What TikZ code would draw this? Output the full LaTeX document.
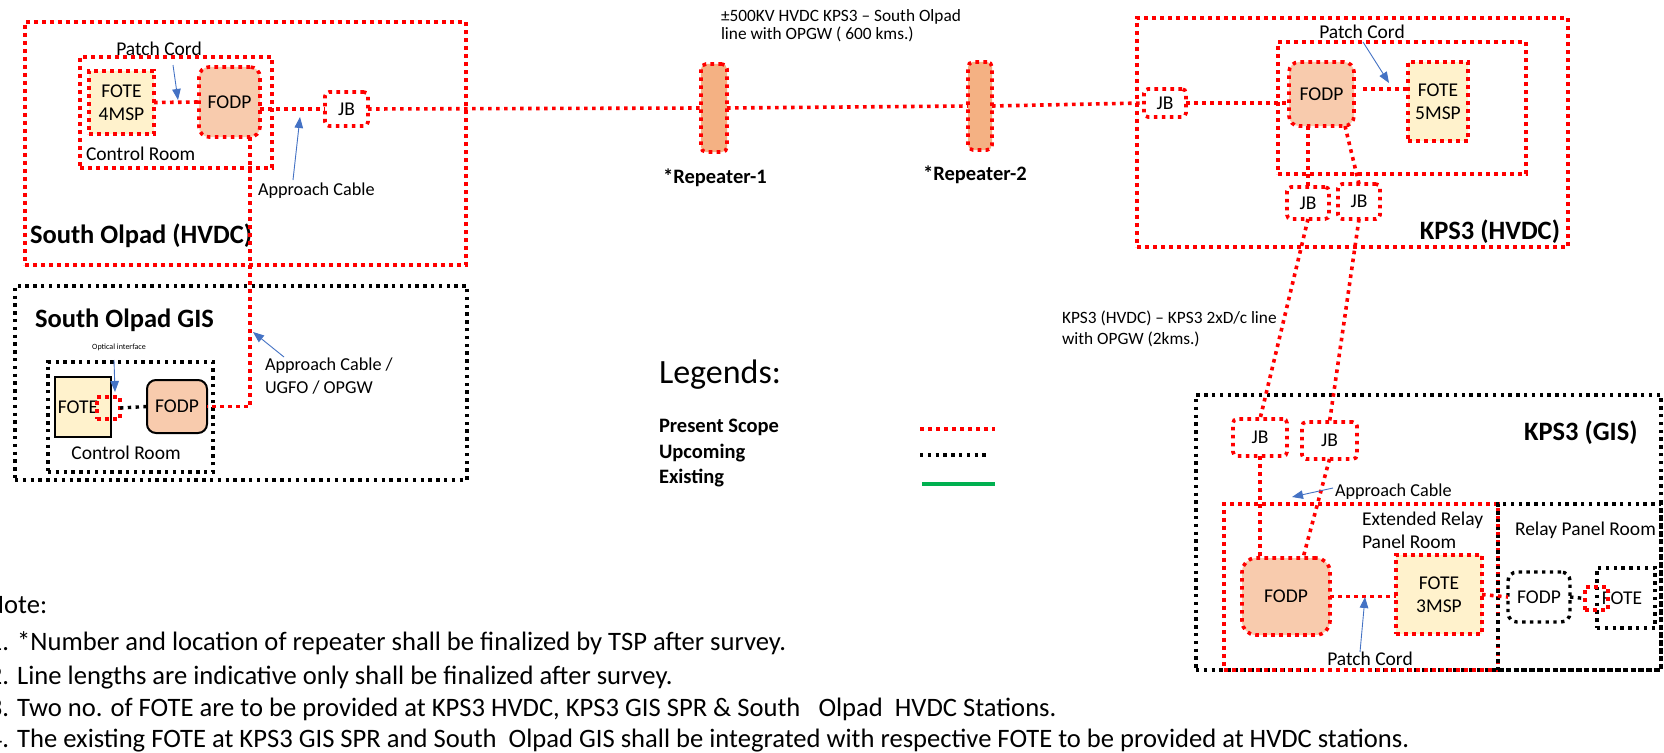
\documentclass[tikz,border=0pt]{standalone}
\usepackage{fontspec}
\setmainfont{Carlito}
\usetikzlibrary{arrows.meta}
\definecolor{fodpfill}{HTML}{F8CBAD}
\definecolor{fotefill}{HTML}{FFF2CC}
\definecolor{repfill}{HTML}{F4B183}
\definecolor{callout}{HTML}{4472C4}
\definecolor{existing}{HTML}{00B050}
\tikzset{
  every node/.style={inner sep=0pt, outer sep=0pt},
  reddots/.style={draw=red, line width=3.6pt, dash pattern=on 3.6pt off 4.4pt},
  blackdots/.style={draw=black, line width=3.4pt, dash pattern=on 3.4pt off 4.4pt},
  sz/.style 2 args={minimum width=#1pt, minimum height=#2pt},
  txt/.style={font=\fontsize{19.5}{23.5}\selectfont},
  smalltxt/.style={font=\fontsize{17.3}{20}\selectfont},
  apptxt/.style={font=\fontsize{18.2}{22}\selectfont},
  station/.style={font=\bfseries\fontsize{26.5}{30}\selectfont},
  boldtxt/.style={font=\bfseries\fontsize{20.5}{24}\selectfont},
  notetxt/.style={font=\fontsize{26.6}{30}\selectfont},
  tinytxt/.style={font=\fontsize{8}{9}\selectfont},
  headtxt/.style={font=\fontsize{34}{38}\selectfont},
  zone/.style={rectangle, reddots},
  zoneup/.style={rectangle, blackdots},
  fotebox/.style={rectangle, fill=fotefill, reddots, align=center, txt},
  fodpbox/.style={rectangle, rounded corners=10pt, fill=fodpfill, reddots, txt},
  jbbox/.style={rectangle, rounded corners=4pt, fill=white, reddots, txt},
  repbox/.style={rectangle, rounded corners=5pt, fill=repfill, reddots},
  oibox/.style={rectangle, reddots},
  fotesolid/.style={rectangle, fill=fotefill, draw=black, line width=2pt, txt},
  fodpsolid/.style={rectangle, rounded corners=9pt, fill=fodpfill, draw=black, line width=2pt, txt},
  fodpup/.style={rectangle, rounded corners=9pt, fill=white, blackdots, txt},
  foteup/.style={rectangle, fill=white, blackdots, txt},
  callarrow/.style={draw=callout, line width=0.9pt, -{Triangle[length=11pt,width=8.5pt]}},
  cable/.style={reddots},
  cableup/.style={blackdots}
}
\begin{document}
\begin{tikzpicture}[x=1pt,y=-1pt]
\useasboundingbox (0,0) rectangle (1664,752);
\fill[white] (0,0) rectangle (1664,752);
\clip (0,0) rectangle (1664,752);

% ---------- South Olpad (HVDC) ----------
\node[zone, sz={441}{243}] (soH) at (245.5,143.5) {};
\node[zone, sz={192}{111}] (crA) at (176,112.5) {};
\node[fotebox, sz={65}{63}] (fote4) at (121.5,102.5) {FOTE\\4MSP};
\node[fodpbox, sz={61}{70}] (fodpA) at (229.5,102) {FODP};
\node[jbbox, sz={43}{34}] (jbA) at (346.5,109) {JB};
\node[station, anchor=base west] (soHlbl) at (30,243.5) {South Olpad (HVDC)};
\node[txt, anchor=base west] (crAlbl) at (86,160) {Control Room};
\node[txt, anchor=base] (pcAlbl) at (159,55.3) {Patch Cord};
\node[apptxt, anchor=base west] (acAlbl) at (258,195) {Approach Cable};

% ---------- South Olpad GIS ----------
\node[zoneup, sz={452}{194}] (soG) at (241,383) {};
\node[zoneup, sz={165}{110}] (crB) at (130.5,417) {};
\node[fotesolid, sz={56}{60}] (foteB) at (83,407) {FOTE\hspace*{10pt}};
\node[oibox, sz={23}{22}] (oiB) at (108.5,408) {};
\node[fodpsolid, sz={60}{53}] (fodpB) at (177,406.5) {FODP};
\node[station, anchor=base west] (soGlbl) at (35,327.5) {South Olpad GIS};
\node[tinytxt, anchor=base] (oiBlbl) at (119,349.6) {Optical interface};
\node[txt, anchor=base] (crBlbl) at (126,459.3) {Control Room};
\node[apptxt, anchor=base west] (acBlbl1) at (265,370) {Approach Cable /};
\node[apptxt, anchor=base west] (acBlbl2) at (265,393) {UGFO / OPGW};

% ---------- HVDC line and repeaters ----------
\node[repbox, sz={26}{88}] (rep1) at (714,108) {};
\node[repbox, sz={24}{88}] (rep2) at (980,106) {};
\node[smalltxt, anchor=base west] (lineA1) at (721,21.7) {±500KV HVDC KPS3 \textendash{} South Olpad};
\node[smalltxt, anchor=base west] (lineA2) at (721,39.5) {line with OPGW ( 600 kms.)};
\node[boldtxt, anchor=base] (rep1lbl) at (715,183.6) {*Repeater-1};
\node[boldtxt, anchor=base] (rep2lbl) at (975,180) {*Repeater-2};

% ---------- KPS3 (HVDC) ----------
\node[zone, sz={431}{229}] (kpsH) at (1352.5,132.5) {};
\node[zone, sz={248}{132}] (roomK) at (1402,108) {};
\node[fodpbox, sz={65}{64}] (fodpK) at (1321.5,94) {FODP};
\node[fotebox, sz={60}{79}] (fote5) at (1438,101.5) {FOTE\\5MSP};
\node[jbbox, sz={42}{28}] (jbK) at (1165,103) {JB};
\node[jbbox, sz={42}{32}] (jbK1) at (1308,203) {JB};
\node[jbbox, sz={42}{35}] (jbK2) at (1359,201.5) {JB};
\node[txt, anchor=base] (pcKlbl) at (1362,38.3) {Patch Cord};
\node[station, anchor=base east] (kpsHlbl) at (1560,239.5) {KPS3 (HVDC)};
\node[smalltxt, anchor=base west] (lineB1) at (1062,323.6) {KPS3 (HVDC) \textendash{} KPS3 2xD/c line};
\node[smalltxt, anchor=base west] (lineB2) at (1062,344.6) {with OPGW (2kms.)};

% ---------- KPS3 (GIS) ----------
\node[zoneup, sz={465}{275}] (kpsG) at (1428.5,532.5) {};
\node[zone, sz={274}{166}] (roomExt) at (1361,587) {};
\node[zoneup, sz={163}{166}] (roomRel) at (1579.5,587) {};
\node[station, anchor=base west] (kpsGlbl) at (1524,440.5) {KPS3 (GIS)};
\node[jbbox, sz={54}{37}] (jbG1) at (1260,437.5) {JB};
\node[jbbox, sz={55}{37}] (jbG2) at (1329.5,440.5) {JB};
\node[fodpbox, rounded corners=14pt, sz={88}{77}] (fodpG) at (1286,596.5) {FODP};
\node[fotebox, sz={86}{79}] (fote3) at (1439,594.5) {FOTE\\3MSP};
\node[fodpup, sz={62}{50}] (fodpR) at (1539,597) {FODP};
\node[foteup, sz={58}{60}] (foteR) at (1626,598) {\hspace*{-8pt}FOTE};
\node[oibox, sz={23}{23}] (oiR) at (1596.5,598.5) {};
\node[apptxt, anchor=base west] (acGlbl) at (1335,496) {Approach Cable};
\node[txt, anchor=base west] (extlbl1) at (1362,525.3) {Extended Relay};
\node[txt, anchor=base west] (extlbl2) at (1362,548.3) {Panel Room};
\node[txt, anchor=base west] (rellbl) at (1515,535.3) {Relay Panel Room};
\node[txt, anchor=base] (pcGlbl) at (1370,665.3) {Patch Cord};

% ---------- cables ----------
\draw[cable] (fote4.east) -- (fodpA.west);
\draw[cable] (fodpA.east |- jbA.west) -- (jbA.west);
\draw[cable] (jbA.east) -- (rep1.west);
\draw[cable] (rep1.east) -- (rep2.west);
\draw[cable] (rep2.east) -- (jbK.west);
\draw[cable] ([xshift=-10pt]fodpA.south east) |- (fodpB.east);
\draw[cableup] (oiB.east) -- (fodpB.west);

\draw[cable] (jbK.east) -- (jbK.east -| fodpK.west);
\coordinate (pcKfrom) at (1363,89);
\draw[cable] (pcKfrom) -- (pcKfrom -| fote5.west);
\draw[cable] (jbK1.north |- fodpK.south) -- (jbK1.north);
\draw[cable] ([xshift=-9pt]fodpK.south east) -- (jbK2.north);
\draw[cable] (jbK1.south) -- (jbG1.north);
\draw[cable] (jbK2.south) -- (jbG2.north);

\draw[cable] (jbG1.south) -- (jbG1.south |- fodpG.north);
\draw[cable] (jbG2.south) -- ([xshift=17pt]fodpG.north);
\draw[cable] (fodpG.east) -- (fodpG.east -| fote3.west);
\draw[cable] (fote3.east) -- (fodpR.west);
\draw[cableup] (fodpR.east) -- (oiR.west);

% ---------- callout arrows ----------
\coordinate (pcAa) at (173,65);   \coordinate (pcAb) at (178,100);
\coordinate (acAa) at (293,180);  \coordinate (acAb) at (300,117);
\coordinate (oiBa) at (114,360);  \coordinate (oiBb) at (115,392);
\coordinate (acBa) at (284,357);  \coordinate (acBb) at (253,332);
\coordinate (pcKa) at (1363,42);  \coordinate (pcKb) at (1389,83);
\coordinate (acGa) at (1333,488); \coordinate (acGb) at (1292,497);
\coordinate (pcGa) at (1360,652); \coordinate (pcGb) at (1365,597);
\draw[callarrow] (pcAa) -- (pcAb);
\draw[callarrow] (acAa) -- (acAb);
\draw[callarrow] (oiBa) -- (oiBb);
\draw[callarrow] (acBa) -- (acBb);
\draw[callarrow] (pcKa) -- (pcKb);
\draw[callarrow] (acGa) -- (acGb);
\draw[callarrow] (pcGa) -- (pcGb);

% ---------- legend ----------
\node[headtxt, anchor=base west] (leghead) at (659,383) {Legends:};
\node[boldtxt, anchor=base west] (legA) at (659,432.6) {Present Scope};
\node[boldtxt, anchor=base west] (legB) at (659,458.6) {Upcoming};
\node[boldtxt, anchor=base west] (legC) at (659,483.6) {Existing};
\coordinate (legAa) at (920,429); \coordinate (legAb) at (995,429);
\coordinate (legBa) at (920,455); \coordinate (legBb) at (990,455);
\coordinate (legCa) at (922,484); \coordinate (legCb) at (995,484);
\draw[cable] (legAa) -- (legAb);
\draw[cableup] (legBa) -- (legBb);
\draw[draw=existing, line width=4pt] (legCa) -- (legCb);

% ---------- notes ----------
\node[notetxt, anchor=base west] (note0) at (-13,613.4) {Note:};
\node[notetxt, anchor=base west] (note1) at (-11,650.4) {1. *Number and location of repeater shall be finalized by TSP after survey.};
\node[notetxt, anchor=base west] (note2) at (-11,684.4) {2. Line lengths are indicative only shall be finalized after survey.};
\node[notetxt, anchor=base west] (note3) at (-11,716.4) {3. Two no. of FOTE are to be provided at KPS3 HVDC, KPS3 GIS SPR \& South\ \ \ Olpad\ \ HVDC Stations.};
\node[notetxt, anchor=base west] (note4) at (-11,747.4) {4. The existing FOTE at KPS3 GIS SPR and South\ \ Olpad GIS shall be integrated with respective FOTE to be provided at HVDC stations.};
\end{tikzpicture}
\end{document}
